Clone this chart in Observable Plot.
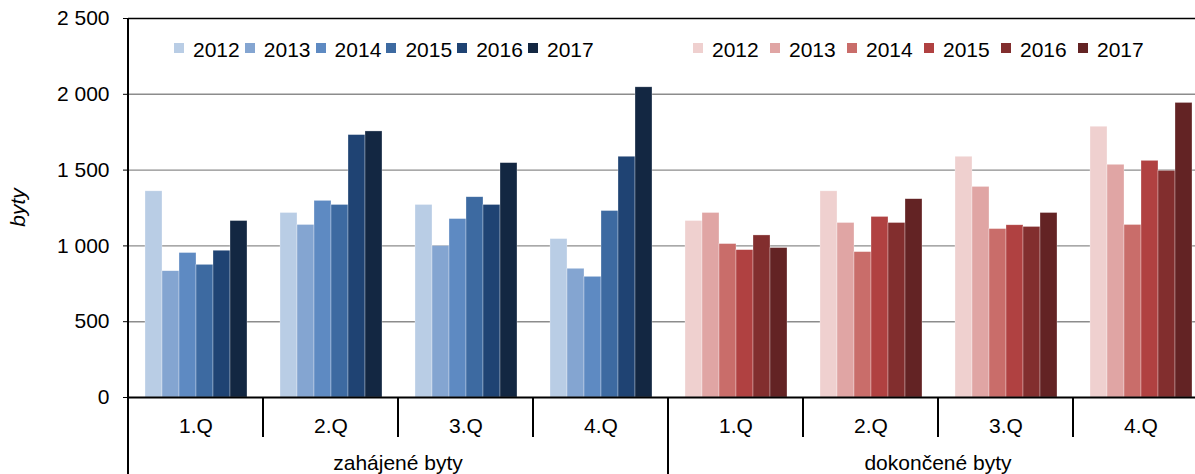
<!DOCTYPE html>
<html>
<head>
<meta charset="utf-8">
<script src="https://cdn.jsdelivr.net/npm/d3@7"></script>
<script src="https://cdn.jsdelivr.net/npm/@observablehq/plot@0.6"></script>
<style>
  html, body { margin: 0; padding: 0; background: #fff; overflow: hidden; }
  #wrap { position: relative; width: 1195px; height: 474px; font-family: "Liberation Sans", Arial, sans-serif; }
  .legend { position: absolute; top: 0; display: flex; }
  .item { display: flex; align-items: flex-start; font-size: 21px; color: #000; }
  .sw { width: 10px; height: 10px; margin-top: 42.5px; margin-right: 9px; }
  .lab { margin-top: 38.5px; line-height: 21px; }
</style>
</head>
<body>
<div id="wrap"></div>
<script>
// ---- data ----
const groups = ["z1", "z2", "z3", "z4", "d1", "d2", "d3", "d4"];
const quarterLabels = ["1.Q", "2.Q", "3.Q", "4.Q"];
const sections = ["zahájené byty", "dokončené byty"];
const years = ["2012", "2013", "2014", "2015", "2016", "2017"];
// zahájené byty (started), per quarter, per year
const started = [
  [1360, 833, 953, 875, 968, 1164],
  [1217, 1138, 1297, 1270, 1731, 1755],
  [1270, 999, 1177, 1321, 1270, 1546],
  [1045, 849, 796, 1230, 1588, 2046]
];
// dokončené byty (completed), per quarter, per year
const completed = [
  [1164, 1217, 1012, 972, 1069, 986],
  [1360, 1151, 959, 1191, 1151, 1308],
  [1588, 1389, 1111, 1136, 1125, 1217],
  [1786, 1535, 1138, 1561, 1495, 1943]
];
const blueColors = ["#b9cde5", "#84a5d1", "#5e8ac2", "#3d6aa1", "#1f4373", "#132742"];
const redColors = ["#efd0cf", "#e0a5a4", "#c96d6a", "#b04141", "#822e2e", "#632324"];
const yTicks = [0, 500, 1000, 1500, 2000, 2500];
const yLabel = "byty";

// ---- build table ----
const rows = [];
[started, completed].forEach((block, s) => {
  block.forEach((vals, q) => {
    vals.forEach((v, i) => {
      rows.push({
        group: groups[s * 4 + q],
        year: years[i],
        value: v,
        color: (s === 0 ? blueColors : redColors)[i]
      });
    });
  });
});

const fmt = d => d3.format(",")(d).replace(/,/g, " ");

const chart = Plot.plot({
  width: 1195,
  height: 474,
  marginTop: 18,
  marginBottom: 77,
  marginLeft: 127,
  marginRight: -14,
  style: { fontFamily: "Liberation Sans, Arial, sans-serif", fontSize: "21px", color: "#000", background: "transparent", overflow: "visible" },
  fx: { domain: groups, padding: 0, axis: null },
  x: { domain: years, paddingInner: 0, paddingOuter: 0.77, axis: null },
  y: { domain: [0, 2500], axis: null },
  marks: [
    Plot.ruleY([500, 1000, 1500, 2000], { stroke: "#8c8c8c", strokeWidth: 1.4 }),
    Plot.barY(rows, { fx: "group", x: "year", y: "value", fill: "color", stroke: "#fff", strokeWidth: 0.6, strokeOpacity: 0.5 }),
    Plot.ruleY([2500], { stroke: "#000", strokeWidth: 1.6 }),
    Plot.ruleY([0], { stroke: "#000", strokeWidth: 2 }),
    Plot.axisY({ ticks: yTicks, tickSize: 5, tickPadding: 14, fontSize: 21, tickFormat: fmt, label: null, stroke: "#000", fill: "#000" }),
    Plot.axisFx({ anchor: "bottom", tickSize: 0, tickPadding: 21, fontSize: 21, label: null, fill: "#000",
      tickFormat: d => quarterLabels[groups.indexOf(d) % 4] })
  ]
});

document.getElementById("wrap").appendChild(chart);

// ---- custom frame lines and section labels via scales ----
const fx = chart.scale("fx");
const y = chart.scale("y");
const svg = d3.select(chart);
const y0 = y.apply(0), yTop = y.apply(2500);
const step = fx.bandwidth;
const g = svg.append("g").attr("stroke", "#000").attr("stroke-width", 2);
const left = fx.apply(groups[0]);
// left axis line
g.append("line").attr("x1", left).attr("x2", left).attr("y1", yTop).attr("y2", 474);
groups.forEach((k, i) => {
  if (i === 0) return;
  const x = fx.apply(k);
  g.append("line").attr("x1", x).attr("x2", x).attr("y1", y0).attr("y2", i % 4 === 0 ? 474 : y0 + 40);
});
const lastX = fx.apply(groups[7]) + step;
g.append("line").attr("x1", lastX).attr("x2", lastX).attr("y1", y0).attr("y2", 474);

sections.forEach((s, i) => {
  const a = fx.apply(groups[i * 4]);
  const b = fx.apply(groups[i * 4 + 3]) + step;
  svg.append("text").attr("x", (a + b) / 2).attr("y", 470).attr("text-anchor", "middle")
    .attr("font-size", 21).attr("fill", "#000").text(s);
});

svg.append("text")
  .attr("transform", `translate(25,${(y0 + yTop) / 2}) rotate(-90)`)
  .attr("text-anchor", "middle").attr("font-size", 21).attr("font-style", "italic").attr("fill", "#000")
  .text(yLabel);

// ---- legends (overlay) ----
function legend(colors, leftPx, itemW) {
  const div = document.createElement("div");
  div.className = "legend";
  div.style.left = leftPx + "px";
  years.forEach((yr, i) => {
    const it = document.createElement("div");
    it.className = "item";
    it.style.width = itemW + "px";
    it.innerHTML = `<span class="sw" style="background:${colors[i]}"></span><span class="lab">${yr}</span>`;
    div.appendChild(it);
  });
  document.getElementById("wrap").appendChild(div);
}
legend(blueColors, 174, 70.8);
legend(redColors, 693, 77);
</script>
</body>
</html>
